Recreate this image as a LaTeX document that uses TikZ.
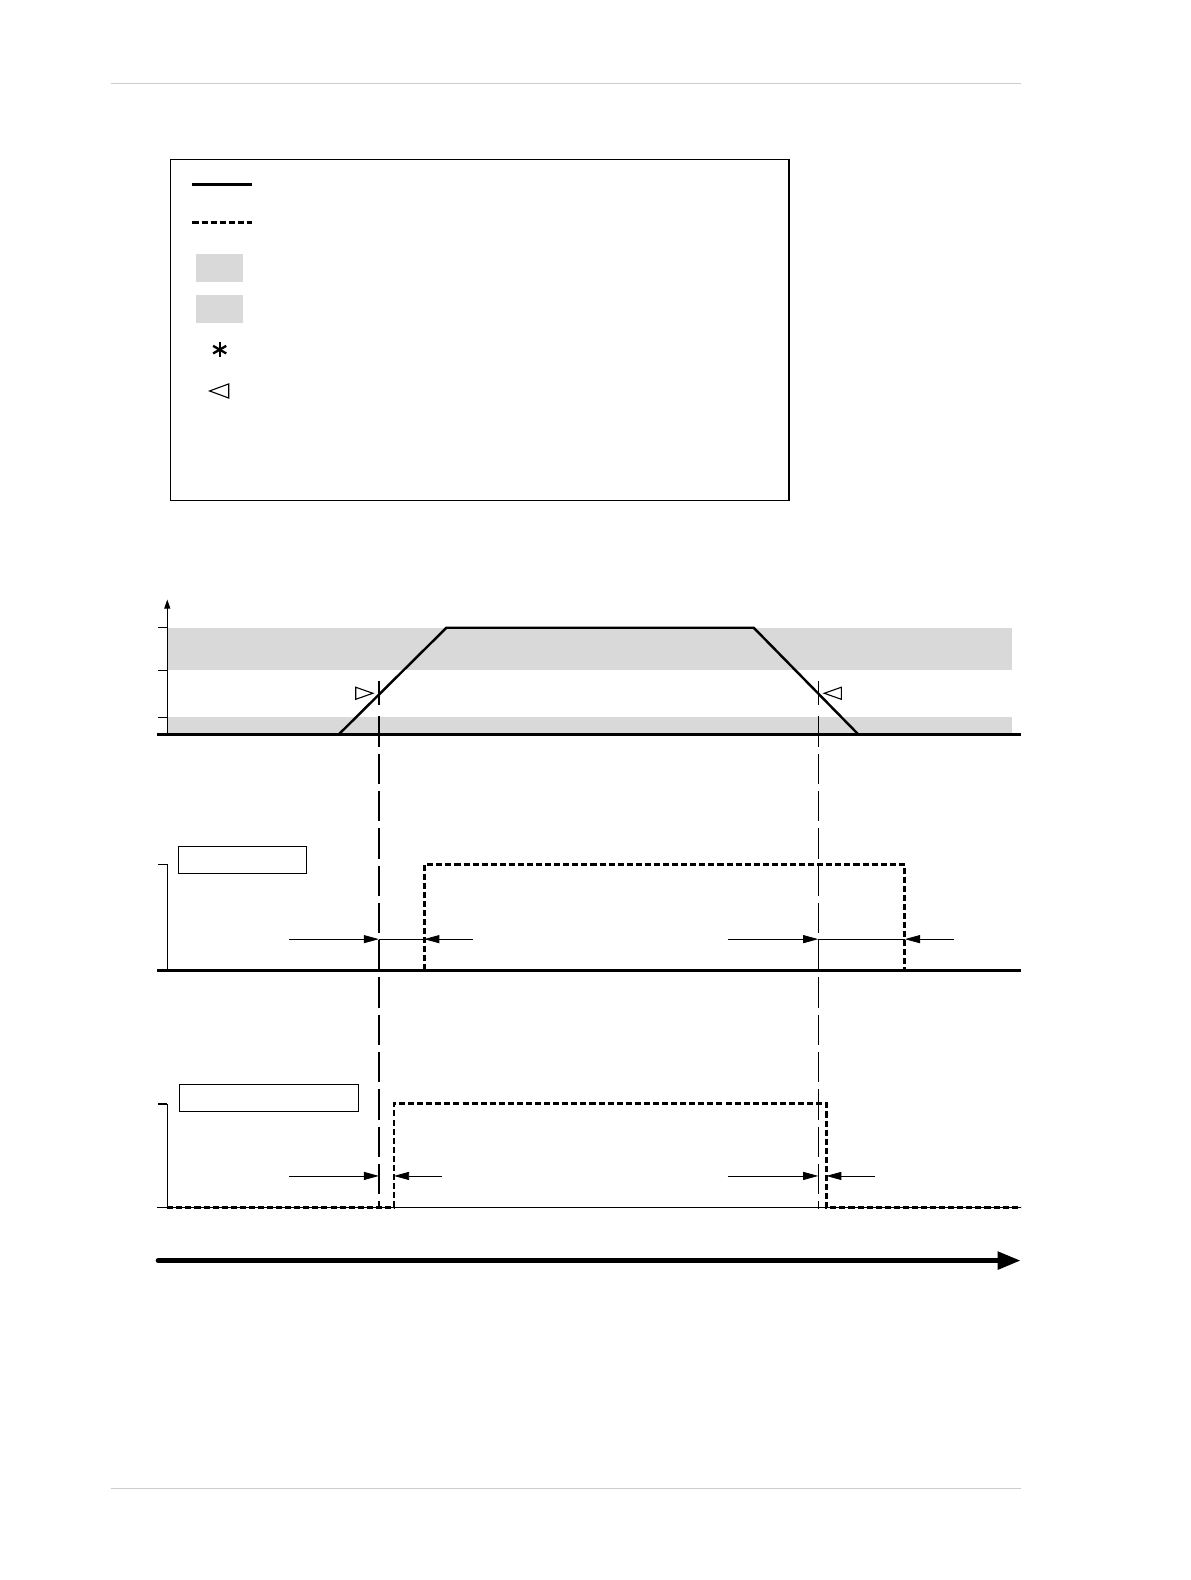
\documentclass[tikz,border=0pt]{standalone}
\usetikzlibrary{arrows.meta}

\begin{document}
\begin{tikzpicture}[x=1pt,y=-1pt,
    band/.style={fill=black!15,draw=none},
    signal/.style={line width=2.4pt,line join=miter},
    pulse/.style={line width=2.9pt,dash pattern=on 6pt off 3pt},
    guide/.style={line width=1.4pt,dash pattern=on 30pt off 7pt},
    dimarrow/.style={line width=0.8pt,-{Triangle[length=15pt,width=8pt]}},
    trigger/.style={line width=1.1pt,line join=miter},
    labelbox/.style={draw,line width=0.9pt,inner sep=0pt,anchor=north west}]
    \useasboundingbox (0,0) rectangle (1181,1568);
    % page rules
    \draw[black!20,line width=1pt] (110,83) -- (1013,83);
    \draw[black!20,line width=1pt] (110,1477) -- (1013,1477);
    % legend
    \draw[line width=1.2pt] (169,158) rectangle (783,497);
    \draw[signal] (191,183) -- (250,183);
    \draw[pulse] (191,221) -- (250,221);
    \fill[black!15] (195,252) rectangle (241,280);
    \fill[black!15] (195,293) rectangle (241,321);
    \begin{scope}[shift={(218,347)}]
        \foreach \a in {90,30,150}
            \draw[line width=2.3pt] (\a:7.5) -- (\a+180:7.5);
    \end{scope}
    \draw[trigger] (208,388) -- (227,381) -- (227,395) -- cycle;
    % time points
    \coordinate (onA) at (376,711);
    \coordinate (onB) at (376,1200);
    \coordinate (offA) at (812,711);
    \coordinate (offB) at (812,1200);
    % input ramp
    \fill[band] (166,623) rectangle (1004,665);
    \fill[band] (166,712) rectangle (1004,729);
    \foreach \y in {623,665,712}
        \draw[line width=1pt] (157,\y) -- (166,\y);
    \draw[line width=1pt,-{Triangle[length=9pt,width=6pt]}] (166,729) -- (166,595);
    \draw[signal] (156,729) -- (1013,729);
    \draw[signal] (166,729) -- (336,729) -- (443,623) -- (748,623) -- (852,729) -- (1013,729);
    \draw[line width=1.3pt] (376,676) -- (376,700);
    \draw[trigger] (353,682) -- (370,688) -- (353,694) -- cycle;
    \draw[line width=1.3pt] (812,676) -- (812,700);
    \draw[trigger] (835,682) -- (818,688) -- (835,694) -- cycle;
    \draw[guide] (onA) -- (onB);
    \draw[guide] (offA) -- (offB);
    % first output
    \draw[line width=1pt] (157,858) -- (166,858) -- (166,963);
    \draw[signal] (156,963) -- (1013,963);
    \node[labelbox,minimum width=127pt,minimum height=26pt] (outA) at (177,840) {};
    \draw[pulse] (421,963) -- (421,858) -- (898,858) -- (898,963);
    \draw[dimarrow] (287,932) -- (376,932);
    \draw[line width=0.8pt] (376,932) -- (421,932);
    \draw[dimarrow] (469,932) -- (421,932);
    \draw[dimarrow] (722,932) -- (812,932);
    \draw[line width=0.8pt] (812,932) -- (898,932);
    \draw[dimarrow] (947,932) -- (898,932);
    % second output
    \draw[line width=2pt] (157,1096) -- (166,1096);
    \draw[line width=1pt] (166,1096) -- (166,1198);
    \draw[line width=1pt] (156,1198) -- (1013,1198);
    \node[labelbox,minimum width=177pt,minimum height=27pt] (outB) at (178,1076) {};
    \draw[pulse] (166,1198) -- (391,1198) -- (391,1095) -- (820,1095) -- (820,1198) -- (1013,1198);
    \draw[dimarrow] (287,1167) -- (376,1167);
    \draw[dimarrow] (439,1167) -- (391,1167);
    \draw[dimarrow] (722,1167) -- (812,1167);
    \draw[dimarrow] (868,1167) -- (820,1167);
    % time axis
    \draw[line width=5pt,line cap=round,-{Triangle[length=23pt,width=17pt]}] (157,1251) -- (1013,1251);
\end{tikzpicture}
\end{document}
